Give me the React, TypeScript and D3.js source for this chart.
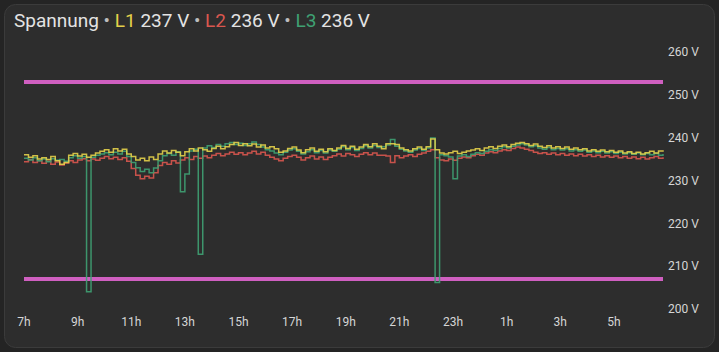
import { useMemo } from 'react';
import * as d3 from 'd3';

const START = new Date(2024, 0, 1, 7, 0);
const STEP_MIN = 10;

const L1_VALUES = [
  236.0, 235.4, 235.8, 235.0, 235.3, 234.9, 235.6, 234.6, 233.8, 234.2,
  235.9, 236.3, 235.7, 236.1, 235.4, 235.9, 236.4, 236.8, 237.2, 236.6,
  237.4, 236.9, 237.3, 236.2, 235.6, 234.8, 235.2, 234.6, 235.5, 234.9,
  236.2, 236.9, 236.4, 237.0, 236.6, 235.8, 236.7, 237.4, 236.9, 237.6,
  237.2, 236.8, 237.5, 238.0, 237.4, 237.9, 238.4, 238.9, 238.2, 238.6,
  238.1, 238.5, 237.8, 238.3, 237.6, 237.9, 237.4, 236.6, 236.9, 237.5,
  237.8, 237.1, 236.5, 237.2, 237.6, 236.8, 237.3, 236.7, 237.4, 237.0,
  237.6, 238.2, 237.5, 238.0, 237.3, 237.8, 238.4, 237.9, 238.6, 238.0,
  237.4, 238.6, 238.6, 238.4, 237.6, 237.2, 236.9, 237.4, 237.8, 237.3,
  237.9, 239.7, 237.2, 236.4, 236.2, 236.5, 236.8, 236.3, 236.6, 236.9,
  237.1, 237.4, 237.0, 237.6, 237.9, 237.5, 238.0, 238.3, 237.9, 238.4,
  238.7, 238.9, 238.6, 238.2, 238.5, 238.0, 237.7, 238.1, 237.6, 237.9,
  237.5, 237.8, 237.3, 237.6, 237.2, 237.4, 236.9, 237.2, 236.8, 237.1,
  236.7, 237.0, 236.6, 236.9, 236.4, 236.7, 236.3, 236.6, 236.2, 236.5,
  236.8, 236.4, 236.9, 236.7,
];

const L2_VALUES = [
  234.4, 234.9, 234.2, 234.6, 234.0, 234.5, 233.8, 234.3, 233.6, 234.1,
  234.6, 234.2, 234.8, 235.1, 234.6, 235.0, 234.7, 235.2, 235.6, 235.1,
  235.4, 234.9, 235.3, 234.5, 232.8, 231.2, 230.4, 231.0, 230.6, 231.8,
  233.5, 234.2, 233.8, 234.6, 234.1, 234.8, 235.3, 234.9, 235.6, 235.2,
  235.7, 235.3, 235.9, 236.3, 235.8, 236.2, 236.6, 236.1, 236.5, 236.0,
  236.4, 236.8, 236.2, 236.6, 235.9, 235.4, 235.0, 234.6, 235.2, 235.6,
  235.9, 235.4, 234.8, 235.3, 235.7, 235.0, 235.5, 234.9, 235.4, 235.8,
  236.2, 235.7, 236.3, 236.0, 235.6, 236.1, 236.5, 236.0, 236.4, 235.9,
  235.9, 235.7, 234.2, 235.8, 235.3, 235.7, 236.0, 235.6, 236.1, 236.4,
  236.8, 237.2, 235.3, 234.8, 234.6, 235.0, 234.7, 235.2, 235.5, 235.3,
  235.8, 236.1, 235.9, 236.4, 236.7, 236.5, 236.9, 237.2, 237.0, 237.5,
  237.8, 237.6, 237.3, 237.0, 236.6, 236.3, 236.5, 236.1, 236.4, 236.0,
  236.3, 235.9, 236.2, 235.8, 236.1, 235.7, 236.0, 235.6, 235.9, 235.5,
  235.8, 235.4, 235.7, 235.3, 235.6, 235.2, 235.5, 235.1, 235.4, 235.0,
  235.3, 235.6, 235.2, 235.4,
];

const L3_VALUES = [
  235.2, 234.8, 235.3, 234.6, 235.0, 234.4, 235.1, 234.7, 234.9, 234.5,
  235.3, 235.8, 235.2, 235.6, 204.0, 235.4, 235.9, 236.2, 236.5, 236.0,
  236.6, 236.2, 236.8, 235.6, 234.2, 233.0, 232.1, 232.6, 231.8, 232.9,
  234.6, 235.8, 236.3, 235.9, 236.7, 227.4, 231.5, 236.9, 237.3, 212.8,
  237.6, 238.1, 237.7, 238.4, 238.0, 238.6, 238.9, 238.4, 238.7, 238.2,
  238.6, 239.0, 238.4, 237.8, 237.2, 236.9, 236.4, 236.0, 236.6, 237.1,
  237.4, 236.8, 236.2, 236.7, 237.2, 236.5, 237.0, 236.4, 237.1, 236.8,
  237.3, 237.9, 237.2, 237.7, 237.0, 237.5, 238.1, 237.6, 238.2, 237.7,
  237.9, 238.3, 239.6, 238.0, 237.3, 236.9, 236.6, 237.1, 237.5, 237.0,
  237.6, 239.9, 206.2, 236.0, 235.8, 235.5, 230.4, 235.7, 236.0, 235.6,
  236.1, 236.5, 236.3, 236.8, 237.2, 237.0, 237.5, 237.9, 237.6, 238.0,
  238.3, 238.6, 238.3, 237.9, 238.1, 237.6, 237.3, 237.7, 237.2, 237.5,
  237.1, 237.4, 236.9, 237.2, 236.8, 237.1, 236.6, 236.9, 236.5, 236.8,
  236.4, 236.7, 236.3, 236.6, 236.2, 236.5, 236.1, 236.4, 236.0, 236.3,
  236.0, 236.3, 235.9, 236.2,
];

const LIMITS = [253, 207];
const Y_TICKS = [200, 210, 220, 230, 240, 250, 260];

const SERIES = [
  { name: 'L2', values: L2_VALUES, color: '#d9574f' },
  { name: 'L3', values: L3_VALUES, color: '#3fa173' },
  { name: 'L1', values: L1_VALUES, color: '#e3d04a' },
];

const WIDTH = 719;
const HEIGHT = 352;
const FONT = "Roboto, 'Noto Sans', sans-serif";

export default function App() {
  const times = useMemo(
    () => L1_VALUES.map((_, i) => d3.timeMinute.offset(START, i * STEP_MIN)),
    []
  );

  const x = d3
    .scaleTime()
    .domain([times[0], times[times.length - 1]])
    .range([24, 663]);
  const y = d3.scaleLinear().domain([200, 260]).range([309, 52]);

  const line = d3
    .line<number>()
    .x((_, i) => x(times[i]))
    .y((v) => y(v))
    .curve(d3.curveStepAfter);

  const xTicks = d3.timeHour.range(times[0], times[times.length - 1], 2);
  const fmt = d3.timeFormat('%-Hh');

  return (
    <svg
      width={WIDTH}
      height={HEIGHT}
      style={{ display: 'block', position: 'absolute', left: 0, top: 0 }}
    >
      <rect width={WIDTH} height={HEIGHT} fill="#242424" />
      <rect
        x={4.5}
        y={4.5}
        width={710}
        height={343}
        rx={11}
        fill="#2d2d2d"
        stroke="#3b3b3b"
      />

      <text x={14} y={27} fontFamily={FONT} fontSize={19} fill="#e3e3e3">
        <tspan>Spannung</tspan>
        <tspan fill="#bdbdbd"> • </tspan>
        <tspan fill="#e3d04a">L1</tspan>
        <tspan> 237 V</tspan>
        <tspan fill="#bdbdbd"> • </tspan>
        <tspan fill="#d9574f">L2</tspan>
        <tspan> 236 V</tspan>
        <tspan fill="#bdbdbd"> • </tspan>
        <tspan fill="#3fa173">L3</tspan>
        <tspan> 236 V</tspan>
      </text>

      {Y_TICKS.map((t) => (
        <text
          key={t}
          x={668}
          y={y(t)}
          dy="0.35em"
          fontFamily={FONT}
          fontSize={12}
          fill="#d6d6d6"
        >
          {t} V
        </text>
      ))}

      {xTicks.map((t) => (
        <text
          key={t.getTime()}
          x={x(t)}
          y={322}
          dy="0.35em"
          textAnchor="middle"
          fontFamily={FONT}
          fontSize={12}
          fill="#d6d6d6"
        >
          {fmt(t)}
        </text>
      ))}

      {LIMITS.map((v) => (
        <line
          key={v}
          x1={24}
          x2={663}
          y1={y(v)}
          y2={y(v)}
          stroke="#cf5fc0"
          strokeWidth={4}
        />
      ))}

      {SERIES.map((s) => (
        <path
          key={s.name}
          d={line(s.values) ?? ''}
          fill="none"
          stroke={s.color}
          strokeWidth={1.5}
          strokeOpacity={0.9}
        />
      ))}
    </svg>
  );
}
